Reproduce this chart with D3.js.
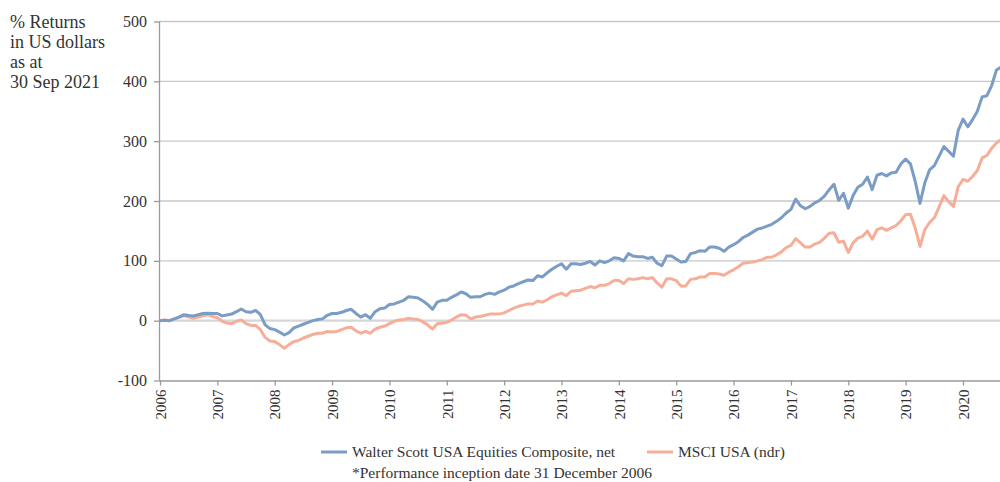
<!DOCTYPE html>
<html>
<head>
<meta charset="utf-8">
<script src="https://cdnjs.cloudflare.com/ajax/libs/d3/7.8.5/d3.min.js"></script>
<style>
  body { margin: 0; background: #fff; }
  text { font-family: "Liberation Serif", "DejaVu Serif", serif; fill: #333; }
</style>
</head>
<body>
<div id="chart"></div>
<script>
// monthly points, first one = 31 Dec 2006 (labelled 2006 on the axis)
var years = ["2006","2007","2008","2009","2010","2011","2012","2013","2014","2015","2016","2017","2018","2019","2020"];
var yTicks = [-100, 0, 100, 200, 300, 400, 500];
var titleLines = ["% Returns", "in US dollars", "as at", "30 Sep 2021"];
var seriesNames = ["Walter Scott USA Equities Composite, net", "MSCI USA (ndr)"];
var footnote = "*Performance inception date 31 December 2006";

var walterScott = [
  0, 0.5, 0, 3, 6, 10, 8.5, 8, 10, 12, 12.5, 12,
  12, 8, 9.5, 11, 15, 19.5, 15, 14, 17, 10, -7, -13,
  -15, -19, -24, -20, -12, -9, -6, -3, 0, 2, 3, 9,
  12, 12, 14, 17, 19, 12, 6, 10, 4, 15, 20, 21,
  27, 28, 31, 34, 40, 39, 38, 33, 27, 19, 31, 34,
  34, 39, 43, 48, 45, 39, 40, 40, 44, 46, 44, 48,
  51, 56, 58, 62, 65, 68, 67, 75, 73, 80, 86, 91,
  95, 86, 95, 95, 94, 96, 99, 93, 100, 97, 100, 105,
  104, 100, 112, 108, 107, 107, 104, 106, 96, 92, 108, 108,
  103, 98, 99, 112, 114, 117, 116, 123, 123, 121, 116, 123,
  127, 132, 139, 143, 148, 153, 155, 158, 161, 166, 172, 180,
  186, 203, 192, 187, 191, 197, 201, 208, 219, 228, 201, 213,
  188, 209, 223, 228, 240, 219, 243, 246, 242, 247, 248, 262,
  270, 262, 233, 196, 230, 252, 259, 275, 291, 283, 275, 318,
  337, 324, 336, 350, 374, 376, 393, 419, 424
];

var msciUsa = [
  0, 1, 0, 3, 6, 8, 6, 4, 6, 8, 10, 7,
  5, -1, -4, -5, -1, 1, -5, -8, -8, -15, -28, -34,
  -35, -40, -46, -40, -35, -33, -29, -26, -23, -21, -21, -18,
  -19, -18, -15, -12, -11, -17, -21, -18, -21, -14, -11, -9,
  -5, -1, 1, 2, 4, 3, 2, -2, -7, -14, -5, -4,
  -3, 1, 6, 10, 9, 3, 6, 7, 9, 11, 11, 11,
  13, 17, 21, 24, 26, 28, 28, 33, 31, 35, 40, 43,
  46, 42, 49, 50, 51, 54, 57, 55, 59, 59, 62, 67,
  67, 62, 70, 69, 70, 72, 70, 72, 63, 56, 70, 70,
  67, 58, 58, 69, 70, 73, 73, 79, 79, 78, 76, 81,
  85, 90, 96, 97, 98, 100, 102, 106, 106, 110, 115, 122,
  126, 137, 130, 123, 123, 128, 131, 138, 146, 147, 131, 133,
  114, 130, 138, 141, 150, 136, 152, 155, 151, 155, 159, 167,
  177, 178, 155, 124, 152, 164, 172, 190, 209, 199, 191, 224,
  236, 233, 241, 251, 272, 276, 288, 297, 303
];

var width = 1000;
var height = 482;
// plot box (note: "top" is taken by window.top, so use other names)
var plotLeft = 160, plotRight = 1000, plotTop = 21.5, plotBottom = 380.5;

var svg = d3.select("#chart").append("svg")
  .attr("width", width)
  .attr("height", height);

var x = d3.scaleLinear().domain([0, 168]).range([plotLeft, 963]);
var y = d3.scaleLinear().domain([-100, 500]).range([plotBottom, plotTop]);

svg.append("defs").append("clipPath")
  .attr("id", "plotclip")
  .append("rect")
    .attr("x", plotLeft)
    .attr("y", 0)
    .attr("width", plotRight - plotLeft)
    .attr("height", height);

// gridlines
svg.append("g").selectAll("line")
  .data(yTicks.filter(function(d) { return d > -100; }))
  .enter().append("line")
    .attr("x1", plotLeft)
    .attr("x2", plotRight)
    .attr("y1", function(d) { return y(d); })
    .attr("y2", function(d) { return y(d); })
    .attr("stroke", function(d) { return d === 0 ? "#d6d6d6" : "#c8c8c8"; })
    .attr("stroke-width", function(d) { return d === 0 ? 2.2 : 1.3; });

// y axis - plain hyphen for the minus, like the original
var yAxis = svg.append("g")
  .attr("transform", "translate(" + plotLeft + ",0)")
  .call(d3.axisLeft(y).tickValues(yTicks).tickSize(6).tickPadding(7)
    .tickFormat(function(d) { return String(d); }));

// x axis, one tick per 12 months
var xAxis = svg.append("g")
  .attr("transform", "translate(0," + plotBottom + ")")
  .call(d3.axisBottom(x).tickValues(d3.range(0, 169, 12)).tickSize(5)
    .tickFormat(function(d, i) { return years[i]; }));

xAxis.selectAll("text")
  .attr("transform", "rotate(-90)")
  .attr("text-anchor", "end")
  .attr("x", -9)
  .attr("y", 0)
  .attr("dy", "0.35em")
  .style("font-size", "15px");

yAxis.selectAll("text").style("font-size", "16px");

[yAxis, xAxis].forEach(function(ax) {
  ax.select(".domain").attr("stroke", "#9a9a9a").attr("stroke-width", 1.3);
  ax.selectAll(".tick line").attr("stroke", "#9a9a9a").attr("stroke-width", 1.3);
  ax.selectAll("text").style("font-family", "Liberation Serif").attr("fill", "#333");
});
xAxis.select(".domain").attr("d", "M" + plotLeft + ",0.5H" + plotRight);
yAxis.select(".domain").attr("d", "M-0.5," + plotTop + "V" + plotBottom);

// lines
var line = d3.line()
  .x(function(d, i) { return x(i); })
  .y(function(d) { return y(d); });

var lines = svg.append("g").attr("clip-path", "url(#plotclip)");

lines.append("path")
  .datum(msciUsa)
  .attr("d", line)
  .attr("fill", "none")
  .attr("stroke", "#f7ae98")
  .attr("stroke-width", 3)
  .attr("stroke-linejoin", "round");

lines.append("path")
  .datum(walterScott)
  .attr("d", line)
  .attr("fill", "none")
  .attr("stroke", "#7b9cc4")
  .attr("stroke-width", 3)
  .attr("stroke-linejoin", "round");

// title, top left
svg.append("g").selectAll("text")
  .data(titleLines)
  .enter().append("text")
    .attr("x", 10)
    .attr("y", function(d, i) { return 28 + i * 20; })
    .style("font-size", "18px")
    .text(function(d) { return d; });

// legend
var legendX = [321, 647];
var legendColors = ["#7b9cc4", "#f7ae98"];
var legend = svg.append("g").selectAll("g")
  .data(seriesNames)
  .enter().append("g")
    .attr("transform", function(d, i) { return "translate(" + legendX[i] + ",452)"; });

legend.append("line")
  .attr("x1", 0).attr("x2", 26)
  .attr("stroke", function(d, i) { return legendColors[i]; })
  .attr("stroke-width", 3);

legend.append("text")
  .attr("x", 31)
  .attr("dy", "0.35em")
  .style("font-size", "15.5px")
  .text(function(d) { return d; });

svg.append("text")
  .attr("x", 352)
  .attr("y", 473)
  .attr("dy", "0.35em")
  .style("font-size", "15.5px")
  .text(footnote);
</script>
</body>
</html>
